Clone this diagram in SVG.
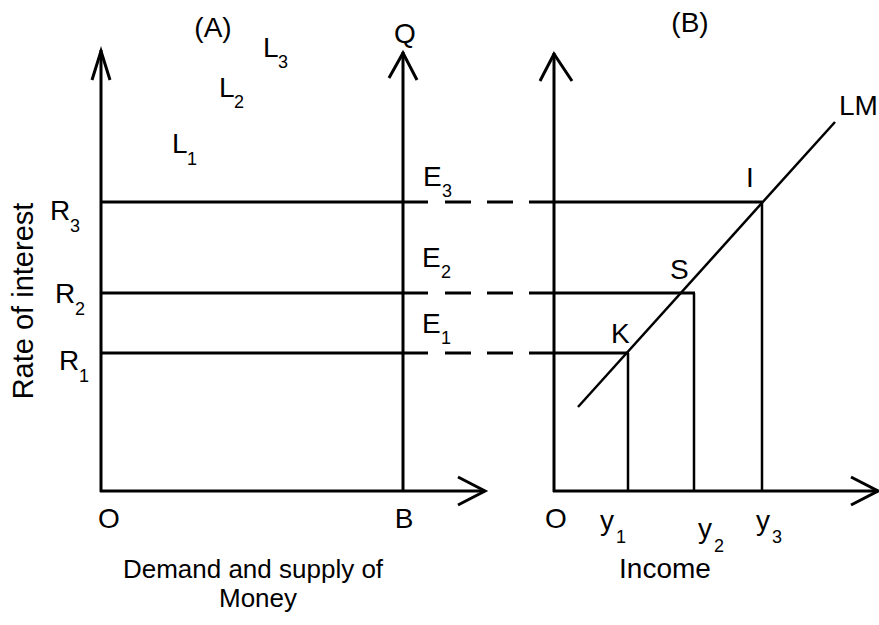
<svg xmlns="http://www.w3.org/2000/svg" width="879" height="625" viewBox="0 0 879 625">
<style>
.ln{stroke:#000;stroke-width:3;fill:none;stroke-linecap:butt}
.thin{stroke:#000;stroke-width:2.5;fill:none}
.ds{stroke:#000;stroke-width:3;fill:none;stroke-dasharray:26 16}
.t{font-family:"Liberation Sans",Arial,sans-serif;font-size:28px;fill:#000}
.b{font-family:"Liberation Sans",Arial,sans-serif;font-size:26px;fill:#000}
.s{font-family:"Liberation Sans",Arial,sans-serif;font-size:18px;fill:#000}
</style>
<rect width="879" height="625" fill="#fff"/>
<g id="connectors">
  <line class="ln" x1="101" y1="50" x2="101" y2="492"/>
  <polyline class="ln" points="92,80 101,51 110,80"/>
  <line class="ln" x1="100" y1="491" x2="485" y2="491"/>
  <polyline class="ln" points="458,477 485,491 458,505"/>
  <line class="ln" x1="403" y1="52" x2="403" y2="492"/>
  <polyline class="ln" points="389,78 403,53 417,80"/>
  <line class="ln" x1="554" y1="53" x2="554" y2="492"/>
  <polyline class="ln" points="540,81 554,54 572,81"/>
  <line class="ln" x1="553" y1="491" x2="878" y2="491"/>
  <polyline class="ln" points="851,477 878,491 851,505"/>
  <line class="ln" x1="101" y1="202" x2="428" y2="202"/>
  <line class="ds" x1="445" y1="202" x2="555" y2="202"/>
  <line class="ln" x1="555" y1="202" x2="762" y2="202"/>
  <line class="ln" x1="101" y1="293" x2="428" y2="293"/>
  <line class="ds" x1="445" y1="293" x2="555" y2="293"/>
  <line class="ln" x1="555" y1="293" x2="695" y2="293"/>
  <line class="ln" x1="101" y1="353" x2="428" y2="353"/>
  <line class="ds" x1="445" y1="353" x2="555" y2="353"/>
  <line class="ln" x1="555" y1="353" x2="629" y2="353"/>
  <line class="thin" x1="628" y1="353" x2="628" y2="491"/>
  <line class="thin" x1="694" y1="293" x2="694" y2="491"/>
  <line class="thin" x1="762" y1="202" x2="762" y2="491"/>
  <line class="thin" x1="578" y1="407" x2="835" y2="122"/>
</g>
<g id="labels">
  <text class="t" x="213" y="37" text-anchor="middle">(A)</text>
  <text class="t" x="690" y="32" text-anchor="middle">(B)</text>
  <text class="t" x="263" y="57">L</text><text class="s" x="278" y="68">3</text>
  <text class="t" x="219" y="97">L</text><text class="s" x="234" y="108">2</text>
  <text class="t" x="172" y="153">L</text><text class="s" x="187" y="165">1</text>
  <text class="t" x="405" y="43" text-anchor="middle">Q</text>
  <text class="t" x="423" y="186">E</text><text class="s" x="442" y="197">3</text>
  <text class="t" x="422" y="267">E</text><text class="s" x="441" y="278">2</text>
  <text class="t" x="422" y="333">E</text><text class="s" x="441" y="344">1</text>
  <text class="t" x="50" y="220">R</text><text class="s" x="70" y="232">3</text>
  <text class="t" x="55" y="303">R</text><text class="s" x="75" y="315">2</text>
  <text class="t" x="59" y="370">R</text><text class="s" x="79" y="382">1</text>
  <text class="t" x="611" y="343">K</text>
  <text class="t" x="670" y="279">S</text>
  <text class="t" x="746" y="187">I</text>
  <text class="t" x="839" y="115">LM</text>
  <text class="t" x="109" y="528" text-anchor="middle">O</text>
  <text class="t" x="404" y="528" text-anchor="middle">B</text>
  <text class="t" x="556" y="528" text-anchor="middle">O</text>
  <text class="t" x="600" y="530">y</text><text class="s" x="616" y="543">1</text>
  <text class="t" x="698" y="538">y</text><text class="s" x="714" y="552">2</text>
  <text class="t" x="756" y="530">y</text><text class="s" x="772" y="543">3</text>
  <text class="t" x="665" y="578" text-anchor="middle">Income</text>
  <text class="b" x="253" y="578" text-anchor="middle">Demand and supply of</text>
  <text class="b" x="258" y="607" text-anchor="middle">Money</text>
  <text class="t" x="33" y="301" font-size="29" text-anchor="middle" transform="rotate(-90 33 301)" style="font-size:29px">Rate of interest</text>
</g>
</svg>
